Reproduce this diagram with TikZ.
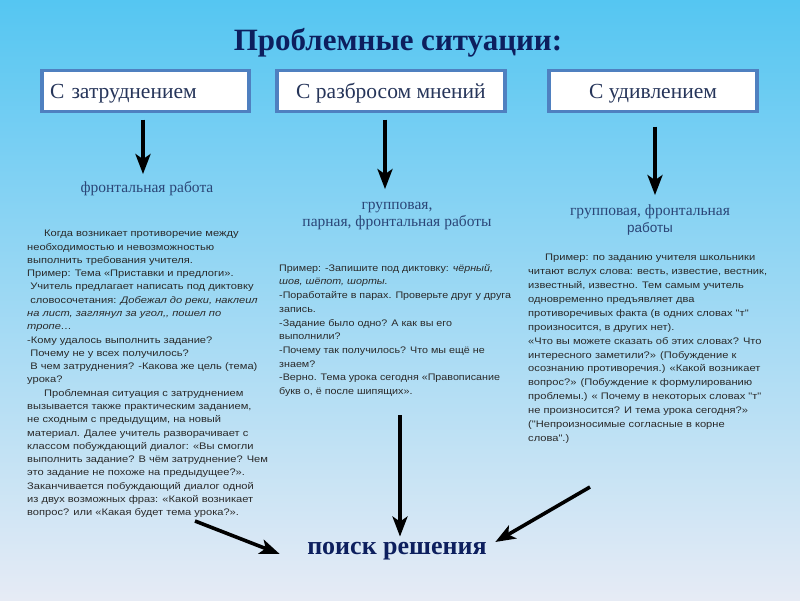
\documentclass[tikz,border=0pt]{standalone}
\usepackage{fontspec}
\setmainfont{Liberation Serif}
\newfontfamily\sansf{Liberation Sans}
\newfontfamily\sansw[FakeStretch=1.17]{Liberation Sans}
\newfontfamily\sansm[FakeStretch=1.13]{Liberation Sans}
\usetikzlibrary{arrows.meta,calc}
\definecolor{bgtop}{HTML}{55C6F2}
\definecolor{bgmid}{HTML}{A2D3F1}
\definecolor{bgbot}{HTML}{E6EBF5}
\definecolor{navy}{HTML}{0D1F5E}
\definecolor{boxline}{HTML}{4F80C0}
\definecolor{boxtext}{HTML}{26355A}
\definecolor{labtext}{HTML}{2B4677}
\definecolor{bodytext}{HTML}{2A2A2A}
\tikzset{
  boxst/.style={draw=boxline, line width=3.2pt, fill=white, minimum height=41, inner xsep=8,
                text depth=0pt, font=\fontsize{21.5}{24}\selectfont, text=boxtext},
  labst/.style={align=center, inner sep=1, text=labtext, font=\fontsize{15.5}{17.5}\selectfont},
  bodyst/.style={anchor=north west, inner sep=0, align=left, text=bodytext},
  arr/.style={line width=3.6pt, -{Stealth[length=20pt,width=15pt,inset=5pt]}, black},
}
\begin{document}
\begin{tikzpicture}[x=1pt,y=-1pt]
\useasboundingbox (0,0) rectangle (800,600);
\shade[top color=bgtop, middle color=bgmid, bottom color=bgbot] (0,0) rectangle (800,600);

\node[text=navy, font=\bfseries\fontsize{31}{34}\selectfont] (title) at (398,43) {Проблемные ситуации:};

\node[boxst, minimum width=207, text width=191, align=left] (b1) at (145.5,91) {С затруднением};
\node[boxst, minimum width=228, align=center] (b2) at (391,91) {С разбросом мнений};
\node[boxst, minimum width=208, align=center] (b3) at (653,91) {С удивлением};

\node[labst] (l1) at (147,189) {фронтальная работа};
\node[labst] (l2) at (397,216) {групповая,\\парная, фронтальная работы};
\node[labst] (l3) at (650,220) {групповая, фронтальная\\{\sansf\fontsize{13.5}{17.5}\selectfont работы}};

\node[bodyst, font=\sansw\fontsize{9.5}{13.29}\selectfont] (t1) at (27,230) {%
\hspace*{17pt}Когда возникает противоречие между\\
необходимостью и невозможностью\\
выполнить требования учителя.\\
Пример: Тема «Приставки и предлоги».\\
\ Учитель предлагает написать под диктовку\\
\ словосочетания: \textit{Добежал до реки, наклеил}\\
\textit{на лист, заглянул за угол,, пошел по}\\
\textit{тропе…}\\
-Кому удалось выполнить задание?\\
\ Почему не у всех получилось?\\
\ В чем затруднения? -Какова же цель (тема)\\
урока?\\
\hspace*{17pt}Проблемная ситуация с затруднением\\
вызывается также практическим заданием,\\
не сходным с предыдущим, на новый\\
материал. Далее учитель разворачивает с\\
классом побуждающий диалог: «Вы смогли\\
выполнить задание? В чём затруднение? Чем\\
это задание не похоже на предыдущее?».\\
Заканчивается побуждающий диалог одной\\
из двух возможных фраз: «Какой возникает\\
вопрос? или «Какая будет тема урока?».};

\node[bodyst, font=\sansm\fontsize{9.5}{13.7}\selectfont] (t2) at (279,264) {%
Пример: -Запишите под диктовку: \textit{чёрный,}\\
\textit{шов, шёпот, шорты.}\\
-Поработайте в парах. Проверьте друг у друга\\
запись.\\
-Задание было одно? А как вы его\\
выполнили?\\
-Почему так получилось? Что мы ещё не\\
знаем?\\
-Верно. Тема урока сегодня «Правописание\\
букв о, ё после шипящих».};

\node[bodyst, font=\sansw\fontsize{9.5}{13.9}\selectfont] (t3) at (528,254) {%
\hspace*{17pt}Пример: по заданию учителя школьники\\
читают вслух слова: весть, известие, вестник,\\
известный, известно. Тем самым учитель\\
одновременно предъявляет два\\
противоречивых факта (в одних словах "т"\\
произносится, в других нет).\\
«Что вы можете сказать об этих словах? Что\\
интересного заметили?» (Побуждение к\\
осознанию противоречия.) «Какой возникает\\
вопрос?» (Побуждение к формулированию\\
проблемы.) « Почему в некоторых словах "т"\\
не произносится? И тема урока сегодня?»\\
("Непроизносимые согласные в корне\\
слова".)};

\node[text=navy, font=\bfseries\fontsize{26}{29}\selectfont] (r) at (397,551) {поиск решения};

\draw[arr] ($(b1.south)+(-2.5,6.5)$) -- ($(b1.south)+(-2.5,61)$);
\draw[arr] ($(b2.south)+(-6,6.5)$) -- ($(b2.south)+(-6,76)$);
\draw[arr] ($(b3.south)+(2,13.5)$) -- ($(b3.south)+(2,82)$);

\coordinate (s1) at (195,521);
\coordinate (s3) at (590,487);
\coordinate (s2) at (400,415);
\draw[arr] (s1) -- ($(r.west)+(-24,3)$);
\draw[arr] (s2) -- ($(s2 |- r.north)+(0,-2)$);
\draw[arr] (s3) -- ($(r.east)+(5,-9)$);
\end{tikzpicture}
\end{document}
